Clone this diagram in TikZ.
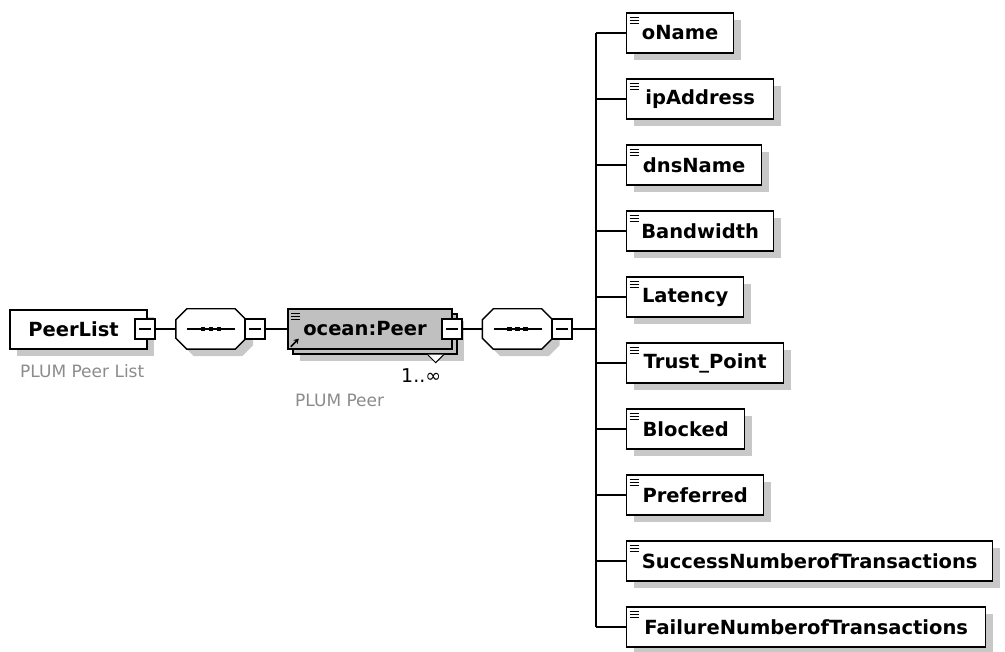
\documentclass[tikz,border=0pt]{standalone}
\usepackage{fontspec}
\newfontfamily\dvs{DejaVu Sans}
\usetikzlibrary{shadows,arrows.meta}
\definecolor{shgray}{HTML}{C8C8C8}
\definecolor{peergray}{HTML}{C0C0C0}
\definecolor{notegray}{HTML}{8C8C8C}
\newcommand\elfont{\dvs\bfseries\fontsize{19.5}{22}\selectfont}
\newcommand\notefont{\dvs\fontsize{17}{19}\selectfont}
% octagon (sequence compositor) around a node, shifted by (#2,#3)
\newcommand\octpath[3]{([shift={(#2+11,#3)}]#1.north west) -- ([shift={(#2-11,#3)}]#1.north east) -- ([shift={(#2,#3+11)}]#1.north east) -- ([shift={(#2,#3-11)}]#1.south east) -- ([shift={(#2-11,#3)}]#1.south east) -- ([shift={(#2+11,#3)}]#1.south west) -- ([shift={(#2,#3-11)}]#1.south west) -- ([shift={(#2,#3+11)}]#1.north west) -- cycle}
\begin{document}
\begin{tikzpicture}[x=1pt,y=-1pt,
  shadowed/.style={drop shadow={shadow xshift=7pt,shadow yshift=-7pt,fill=shgray,opacity=1}},
  icon/.style={path picture={\foreach \k in {0,1,2}{\draw[line width=1.1pt] ([shift={(3,4.5+3*\k)}]path picture bounding box.north west) -- ++(9,0);}}},
  elem/.style={shadowed,icon,draw,line width=1.4pt,fill=white,minimum height=40,inner sep=0pt,font=\elfont,anchor=west},
  rootbox/.style={shadowed,draw,line width=1.4pt,fill=white,minimum height=39,minimum width=137,inner sep=0pt,font=\elfont},
  peerbox/.style={draw,line width=1.4pt,fill=peergray,minimum height=40,minimum width=164,inner sep=0pt,font=\elfont},
  collapse/.style={draw,line width=1.2pt,fill=white,minimum size=20,inner sep=0pt,
    path picture={\draw[line width=1.2pt] ([xshift=4pt]path picture bounding box.west) -- ([xshift=-4pt]path picture bounding box.east);}},
  seqbox/.style={minimum width=70,minimum height=40,inner sep=0pt},
  conn/.style={line width=1.4pt},
  note/.style={inner sep=0pt,font=\notefont,text=notegray,anchor=base west}]
\useasboundingbox[fill=white] (0,0) rectangle (1005,652);

% root element
\node[rootbox] (root) at (78.5,329.5) {PeerList\kern10pt};
\node[collapse] (c1) at (145,329) {};
\node[note] (rootnote) at (20,378) {PLUM Peer List};

% first sequence
\node[seqbox] (seq1) at (211,329) {};
\fill[shgray] \octpath{seq1}{7}{7};
\filldraw[fill=white,line width=1.4pt] \octpath{seq1}{0}{0};
\draw[line width=1.3pt] ([xshift=-24pt]seq1.center) -- ([xshift=24pt]seq1.center);
\foreach \d in {-8,0,8} \fill ([xshift=\d pt]seq1.center) +(-2.3,-2.3) rectangle +(2.3,2.3);
\node[collapse] (c2) at (255,329) {};

% referenced element, repeated 1..unbounded
\node[peerbox,shadowed] (peerback) at (375,334) {};
\node[peerbox,icon] (peer) at (370,329) {ocean:Peer\kern10pt};
\draw[line width=1.6pt,-{Stealth[length=5pt,width=6pt]}] ([shift={(3.5,-3)}]peer.south west) -- ++(8,-8);
\filldraw[fill=white,line width=1pt] ([shift={(-30,0)}]peerback.south east) -- ++(8,8) -- ++(8,-8);
\node[collapse] (c3) at (452,329) {};
\node[anchor=base west,inner sep=0pt,font=\dvs\fontsize{19}{21}\selectfont] (card) at (401,383) {1..∞};
\node[note] (peernote) at (295,407) {PLUM Peer};

% second sequence
\node[seqbox] (seq2) at (517.5,329) {};
\fill[shgray] \octpath{seq2}{7}{7};
\filldraw[fill=white,line width=1.4pt] \octpath{seq2}{0}{0};
\draw[line width=1.3pt] ([xshift=-24pt]seq2.center) -- ([xshift=24pt]seq2.center);
\foreach \d in {-8,0,8} \fill ([xshift=\d pt]seq2.center) +(-2.3,-2.3) rectangle +(2.3,2.3);
\node[collapse] (c4) at (562,329) {};

% child elements
\node[elem,minimum width=107] (oname)    at (626,33)  {oName};
\node[elem,minimum width=147] (ipaddr)   at (626,99)  {ipAddress};
\node[elem,minimum width=135] (dns)      at (626,165) {dnsName};
\node[elem,minimum width=147] (bw)       at (626,231) {Bandwidth};
\node[elem,minimum width=117] (lat)      at (626,297) {Latency};
\node[elem,minimum width=157] (trust)    at (626,363) {Trust\_Point};
\node[elem,minimum width=118] (blocked)  at (626,429) {Blocked};
\node[elem,minimum width=137] (pref)     at (626,495) {Preferred};
\node[elem,minimum width=366] (success)  at (626,561) {SuccessNumberofTransactions};
\node[elem,minimum width=359] (failure)  at (626,627) {FailureNumberofTransactions};

% connectors
\coordinate (trunk) at (596,329);
\draw[conn] (c1.east) -- (seq1.west);
\draw[conn] (c2.east) -- (peer.west);
\draw[conn] (c3.east) -- (seq2.west);
\draw[conn] (c4.east) -- (trunk);
\draw[conn] (oname.west -| trunk) -- (failure.west -| trunk);
\foreach \n in {oname,ipaddr,dns,bw,lat,trust,blocked,pref,success,failure}
  \draw[conn] (\n.west -| trunk) -- (\n.west);
\end{tikzpicture}
\end{document}
